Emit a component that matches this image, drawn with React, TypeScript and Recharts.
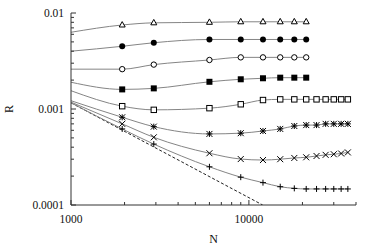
import React from 'react';
import { ComposedChart, Line, XAxis, YAxis } from 'recharts';

// N values of the measured points
const N_START = 1000;
const N_SHORT = [1940, 2920, 6000, 9000, 12000, 15000, 18000, 21000];
const N_LONG = [1940, 2920, 6000, 9000, 12000, 15000, 18000, 21000, 24000, 27000, 30000, 33000, 36000];

// Curve start values (at N = 1000) and measured R values
const triStart = 0.0063;
const triR = [0.0075, 0.0079, 0.0080, 0.0081, 0.0081, 0.0081, 0.0081, 0.0081];
const fcircStart = 0.0040;
const fcircR = [0.0045, 0.0049, 0.0053, 0.0053, 0.0053, 0.0053, 0.0053, 0.0053];
const ocircStart = 0.0026;
const ocircR = [0.0026, 0.0029, 0.00324, 0.00345, 0.00345, 0.00345, 0.00345, 0.00345];
const fsqStart = 0.0019;
const fsqR = [0.0016, 0.00164, 0.00192, 0.00204, 0.00209, 0.00212, 0.00212, 0.00212];
const osqStart = 0.00155;
const osqR = [0.00107, 0.00098, 0.00102, 0.00112, 0.00124, 0.00126, 0.00126, 0.00126, 0.00126, 0.00126, 0.00126, 0.00126, 0.00126];
const starStart = 0.00122;
const starR = [0.00082, 0.000655, 0.00055, 0.00056, 0.00059, 0.00062, 0.000665, 0.00068, 0.00068, 0.0007, 0.0007, 0.0007, 0.0007];
const crossStart = 0.00118;
const crossR = [0.0007, 0.000507, 0.000346, 0.000301, 0.000294, 0.0003, 0.000309, 0.000314, 0.000324, 0.000333, 0.000338, 0.000344, 0.000353];
const plusStart = 0.00116;
const plusR = [0.00062, 0.000431, 0.00025, 0.000195, 0.000171, 0.000155, 0.000149, 0.000147, 0.000147, 0.000147, 0.000147, 0.000147, 0.000147];

// dashed reference line end points
const dashN = [1000, 11950];
const dashR = [0.00116, 0.0001];

const X_TICKS = [1000, 2000, 3000, 4000, 5000, 6000, 7000, 8000, 9000, 10000, 20000, 30000, 40000];
const Y_TICKS = [0.0001, 0.0002, 0.0003, 0.0004, 0.0005, 0.0006, 0.0007, 0.0008, 0.0009,
  0.001, 0.002, 0.003, 0.004, 0.005, 0.006, 0.007, 0.008, 0.009, 0.01];

const build = (ns: number[], start: number, rs: number[]) => [
  { N: N_START, R: start, start: true },
  ...ns.map((n, i) => ({ N: n, R: rs[i] })),
];

const dashData = dashN.map((n, i) => ({ N: n, R: dashR[i], start: true }));

const FONT = '"Liberation Serif", "Times New Roman", serif';
const FS = 11.5;
const AXIS = '#333';
const LINE = '#858585';

const isMajor = (v: number) => Math.abs(Math.log10(v) - Math.round(Math.log10(v))) < 1e-6;

const XTickBottom = (p: any) => {
  const { x, y, payload } = p;
  const v = payload.value;
  const len = isMajor(v) ? 5 : 3;
  return (
    <g>
      <line x1={x} x2={x} y1={y} y2={y - len} stroke={AXIS} />
      {isMajor(v) && (
        <text x={x} y={y + 18} textAnchor="middle" fontSize={FS} fontFamily={FONT} fill="#111">{String(v)}</text>
      )}
    </g>
  );
};
const XTickTop = (p: any) => {
  const { x, y, payload } = p;
  const len = isMajor(payload.value) ? 5 : 3;
  return <line x1={x} x2={x} y1={y} y2={y + len} stroke={AXIS} />;
};
const YTickLeft = (p: any) => {
  const { x, y, payload } = p;
  const v = payload.value;
  const len = isMajor(v) ? 5 : 3;
  return (
    <g>
      <line x1={x} x2={x + len} y1={y} y2={y} stroke={AXIS} />
      {isMajor(v) && (
        <text x={x - 7} y={y + 4} textAnchor="end" fontSize={FS} fontFamily={FONT} fill="#111">{String(v)}</text>
      )}
    </g>
  );
};
const YTickRight = (p: any) => {
  const { x, y, payload } = p;
  const len = isMajor(payload.value) ? 5 : 3;
  return <line x1={x} x2={x - len} y1={y} y2={y} stroke={AXIS} />;
};

const RLabel = (p: any) => {
  const vb = p.viewBox || { x: 0, y: 13, width: 71, height: 192 };
  const cx = vb.x + 9;
  const cy = vb.y + vb.height / 2;
  return (
    <text x={cx} y={cy} transform={`rotate(-90 ${cx} ${cy})`} textAnchor="middle" dominantBaseline="central"
      fontSize={FS + 0.5} fontFamily={FONT} fill="#111">R</text>
  );
};

const K = '#000';
const makeDot = (kind: string) => (props: any) => {
  const { cx, cy, payload, index } = props;
  if (payload?.start || cx == null || cy == null) return <g key={index} />;
  const s = 3;
  switch (kind) {
    case 'tri':
      return <polygon key={index} points={`${cx},${cy - 3.4} ${cx - 3},${cy + 2} ${cx + 3},${cy + 2}`} fill="#fff" stroke={K} strokeWidth={1} />;
    case 'fcirc':
      return <circle key={index} cx={cx} cy={cy} r={3} fill={K} />;
    case 'ocirc':
      return <circle key={index} cx={cx} cy={cy} r={2.7} fill="#fff" stroke={K} strokeWidth={1} />;
    case 'fsq':
      return <rect key={index} x={cx - 3} y={cy - 3} width={6} height={6} fill={K} />;
    case 'osq':
      return <rect key={index} x={cx - 2.7} y={cy - 2.7} width={5.4} height={5.4} fill="#fff" stroke={K} strokeWidth={1} />;
    case 'star':
      return (
        <g key={index} stroke={K} strokeWidth={1}>
          <line x1={cx - s} x2={cx + s} y1={cy} y2={cy} />
          <line x1={cx} x2={cx} y1={cy - s} y2={cy + s} />
          <line x1={cx - s} x2={cx + s} y1={cy - s} y2={cy + s} />
          <line x1={cx - s} x2={cx + s} y1={cy + s} y2={cy - s} />
        </g>
      );
    case 'cross':
      return (
        <g key={index} stroke={K} strokeWidth={1}>
          <line x1={cx - s} x2={cx + s} y1={cy - s} y2={cy + s} />
          <line x1={cx - s} x2={cx + s} y1={cy + s} y2={cy - s} />
        </g>
      );
    default:
      return (
        <g key={index} stroke={K} strokeWidth={1}>
          <line x1={cx - s} x2={cx + s} y1={cy} y2={cy} />
          <line x1={cx} x2={cx} y1={cy - s} y2={cy + s} />
        </g>
      );
  }
};

const series = [
  { key: 'plus', data: build(N_LONG, plusStart, plusR) },
  { key: 'cross', data: build(N_LONG, crossStart, crossR) },
  { key: 'star', data: build(N_LONG, starStart, starR) },
  { key: 'osq', data: build(N_LONG, osqStart, osqR) },
  { key: 'fsq', data: build(N_SHORT, fsqStart, fsqR) },
  { key: 'ocirc', data: build(N_SHORT, ocircStart, ocircR) },
  { key: 'fcirc', data: build(N_SHORT, fcircStart, fcircR) },
  { key: 'tri', data: build(N_SHORT, triStart, triR) },
];

export default function App() {
  return (
    <div style={{ position: 'absolute', left: 0, top: 0, width: 374, height: 249, background: '#fff' }}>
      <ComposedChart width={374} height={249} margin={{ top: 13, right: 18, bottom: 0, left: 0 }}
        style={{ fontFamily: FONT }}>
        <XAxis xAxisId="b" type="number" dataKey="N" scale="log" domain={[1000, 40000]} allowDataOverflow
          ticks={X_TICKS} interval={0} tickSize={0} tickMargin={0} tickLine={false} height={44}
          axisLine={{ stroke: AXIS }} tick={<XTickBottom />}
          label={{ value: 'N', position: 'insideBottom', offset: 6, fontSize: FS + 0.5, fontFamily: FONT, fill: '#111' }} />
        <XAxis xAxisId="t" orientation="top" type="number" dataKey="N" scale="log" domain={[1000, 40000]} allowDataOverflow
          ticks={X_TICKS} interval={0} tickSize={0} tickMargin={0} tickLine={false} height={0}
          axisLine={{ stroke: AXIS }} tick={<XTickTop />} />
        <YAxis yAxisId="l" type="number" dataKey="R" scale="log" domain={[0.0001, 0.01]} allowDataOverflow
          ticks={Y_TICKS} interval={0} tickSize={0} tickMargin={0} tickLine={false} width={71}
          axisLine={{ stroke: AXIS }} tick={<YTickLeft />} label={<RLabel />} />
        <YAxis yAxisId="r" orientation="right" type="number" dataKey="R" scale="log" domain={[0.0001, 0.01]} allowDataOverflow
          ticks={Y_TICKS} interval={0} tickSize={0} tickMargin={0} tickLine={false} width={0}
          axisLine={{ stroke: AXIS }} tick={<YTickRight />} />
        <Line xAxisId="b" yAxisId="l" data={dashData} dataKey="R" type="linear" stroke="#222"
          strokeWidth={1} strokeDasharray="3 2" dot={false} activeDot={false} isAnimationActive={false} />
        {series.map((s) => (
          <Line key={s.key} xAxisId="b" yAxisId="l" data={s.data} dataKey="R" type="monotone"
            stroke={LINE} strokeWidth={1} dot={makeDot(s.key)} activeDot={false} isAnimationActive={false} />
        ))}
      </ComposedChart>
    </div>
  );
}
